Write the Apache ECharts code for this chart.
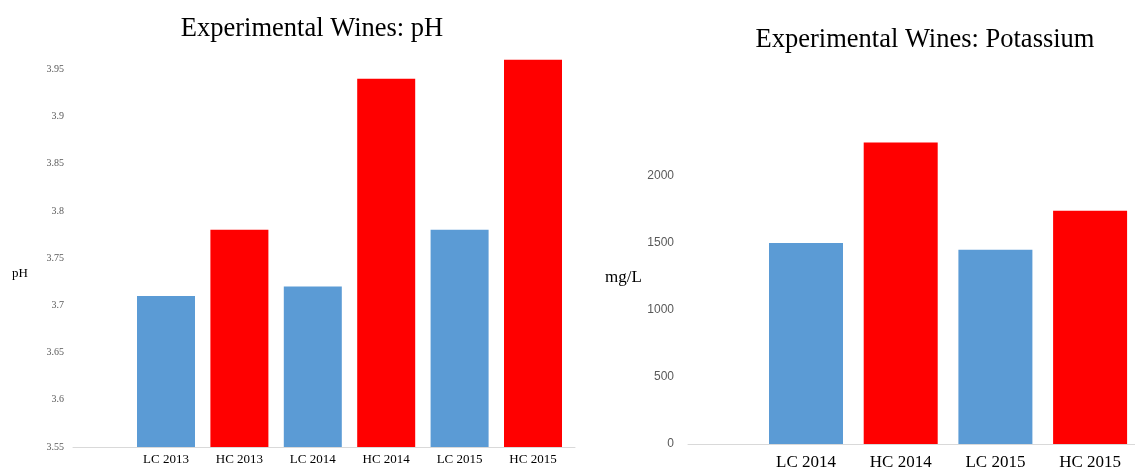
<!DOCTYPE html>
<html><head><meta charset="utf-8">
<script src="https://cdn.jsdelivr.net/npm/echarts@6/dist/echarts.min.js"></script>
<style>html,body{margin:0;padding:0;background:#fff}#c{width:1135px;height:471px}</style>
</head><body><div id="c"></div>
<script>
// ---- data ----
const phCategories = ['LC 2013', 'HC 2013', 'LC 2014', 'HC 2014', 'LC 2015', 'HC 2015'];
const phValues = [3.71, 3.78, 3.72, 3.94, 3.78, 3.96];
const phAxis = [3.55, 4.0, 0.05];          // min, max, step
const kCategories = ['LC 2014', 'HC 2014', 'LC 2015', 'HC 2015'];
const kValues = [1500, 2250, 1450, 1740];
const kAxis = [0, 2500, 500];              // min, max, step

const BLUE = '#5B9BD5', RED = '#FF0000';
const SERIF = '"Liberation Serif", "Times New Roman", serif';
const SANS = '"Liberation Sans", Arial, sans-serif';

function barData(cats, vals) {
  return cats.map((c, i) => ({ value: [i, vals[i]], itemStyle: { color: c.startsWith('LC') ? BLUE : RED } }));
}
function idx(n) { return Array.from({ length: n }, (_, i) => i); }

const chart = echarts.init(document.getElementById('c'), null, { renderer: 'canvas' });
chart.setOption({
  animation: false,
  backgroundColor: '#fff',
  title: [
    { text: 'Experimental Wines: pH', left: 312, top: 16, textAlign: 'center', padding: 0,
      textStyle: { fontFamily: SERIF, fontSize: 26.5, fontWeight: 'normal', color: '#000' } },
    { text: 'Experimental Wines: Potassium', left: 925, top: 27, textAlign: 'center', padding: 0,
      textStyle: { fontFamily: SERIF, fontSize: 26.5, fontWeight: 'normal', color: '#000' } }
  ],
  graphic: [
    { type: 'text', x: 12, y: 274, style: { text: 'pH', font: '13px ' + SERIF, fill: '#000', verticalAlign: 'middle' } },
    { type: 'text', x: 605, y: 278, style: { text: 'mg/L', font: '17px ' + SERIF, fill: '#000', verticalAlign: 'middle' } }
  ],
  grid: [
    { left: 73, right: 1135 - 575, top: 22, bottom: 24 },
    { left: 688, right: 0, top: 109, bottom: 26.5 }
  ],
  xAxis: [
    { type: 'value', gridIndex: 0, min: (73 - 166) / 73.4, max: (575 - 166) / 73.4,
      splitLine: { show: false }, axisTick: { show: false },
      axisLine: { show: true, lineStyle: { color: '#D9D9D9', width: 1 } },
      axisLabel: { customValues: idx(phCategories.length), formatter: v => phCategories[Math.round(v)],
        fontFamily: SERIF, fontSize: 13, color: '#000', margin: 6 } },
    { type: 'value', gridIndex: 1, min: (688 - 806) / 94.7, max: (1135 - 806) / 94.7,
      splitLine: { show: false }, axisTick: { show: false },
      axisLine: { show: true, lineStyle: { color: '#D9D9D9', width: 1 } },
      axisLabel: { customValues: idx(kCategories.length), formatter: v => kCategories[Math.round(v)],
        fontFamily: SERIF, fontSize: 17, color: '#000', margin: 10 } }
  ],
  yAxis: [
    { type: 'value', gridIndex: 0, min: phAxis[0], max: phAxis[1], interval: phAxis[2],
      splitLine: { show: false }, axisTick: { show: false }, axisLine: { show: false },
      axisLabel: { showMaxLabel: false, fontFamily: SERIF, fontSize: 10, color: '#595959', margin: 9 } },
    { type: 'value', gridIndex: 1, min: kAxis[0], max: kAxis[1], interval: kAxis[2],
      splitLine: { show: false }, axisTick: { show: false }, axisLine: { show: false },
      axisLabel: { showMaxLabel: false, formatter: v => String(v),
        fontFamily: SANS, fontSize: 12, color: '#595959', margin: 14 } }
  ],
  series: [
    { type: 'bar', xAxisIndex: 0, yAxisIndex: 0, barWidth: 58, data: barData(phCategories, phValues) },
    { type: 'bar', xAxisIndex: 1, yAxisIndex: 1, barWidth: 74, data: barData(kCategories, kValues) }
  ]
});
</script></body></html>
